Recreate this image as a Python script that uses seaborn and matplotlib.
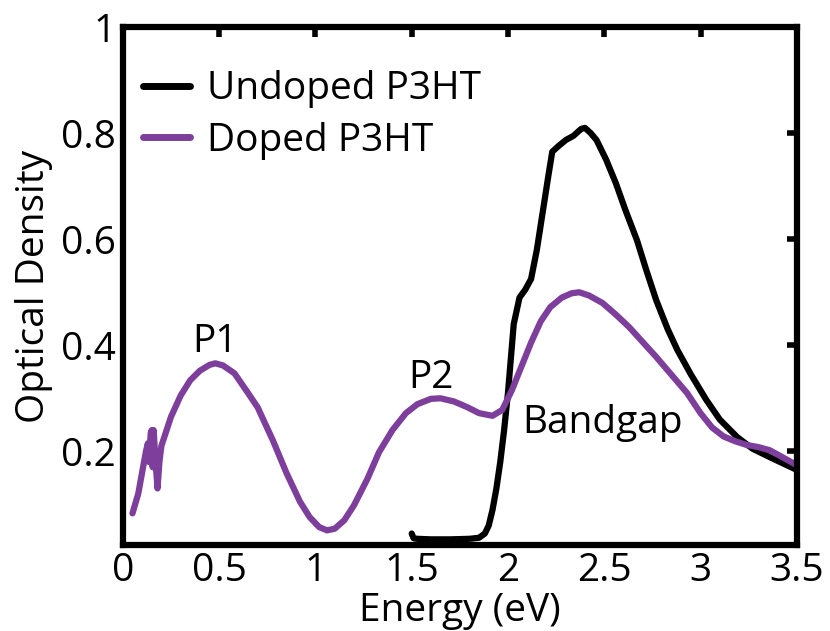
import numpy as np
import pandas as pd
import matplotlib
matplotlib.use("Agg")
import matplotlib.pyplot as plt
import seaborn as sns

# ---- data ----
doped_x = [0.05, 0.08, 0.10, 0.12, 0.13, 0.135, 0.145, 0.15, 0.155, 0.16, 0.17, 0.18, 0.19, 0.20,
           0.25, 0.30, 0.35, 0.40, 0.45, 0.48, 0.52, 0.58, 0.65, 0.70, 0.78, 0.85, 0.92, 0.97,
           1.02, 1.06, 1.10, 1.15, 1.20, 1.27, 1.33, 1.40, 1.47, 1.53, 1.60, 1.65, 1.72, 1.79,
           1.85, 1.92, 1.97, 2.02, 2.07, 2.12, 2.17, 2.22, 2.28, 2.33, 2.37, 2.42, 2.49, 2.56,
           2.63, 2.70, 2.77, 2.85, 2.93, 3.00, 3.06, 3.12, 3.18, 3.24, 3.30, 3.36, 3.42, 3.50]
doped_y = [0.083, 0.12, 0.16, 0.20, 0.215, 0.18, 0.235, 0.24, 0.17, 0.24, 0.18, 0.13, 0.18, 0.21,
           0.265, 0.305, 0.334, 0.352, 0.363, 0.366, 0.362, 0.347, 0.31, 0.283, 0.22, 0.159, 0.105, 0.076,
           0.057, 0.051, 0.054, 0.07, 0.098, 0.148, 0.198, 0.24, 0.272, 0.289, 0.299, 0.30, 0.294, 0.283,
           0.272, 0.267, 0.278, 0.315, 0.36, 0.405, 0.445, 0.472, 0.49, 0.498, 0.50, 0.494, 0.48, 0.458,
           0.434, 0.406, 0.378, 0.344, 0.31, 0.272, 0.245, 0.228, 0.219, 0.212, 0.208, 0.202, 0.19, 0.174]

undoped_x = [1.50, 1.51, 1.53, 1.60, 1.70, 1.80, 1.85, 1.88, 1.90, 1.92, 1.94, 1.96, 1.98, 2.00,
             2.03, 2.06, 2.09, 2.12, 2.15, 2.18, 2.21, 2.23, 2.26, 2.30, 2.34, 2.38, 2.40, 2.43,
             2.46, 2.51, 2.56, 2.61, 2.67, 2.72, 2.77, 2.83, 2.88, 2.95, 3.03, 3.10, 3.19, 3.27,
             3.36, 3.43, 3.50]
undoped_y = [0.045, 0.036, 0.035, 0.034, 0.034, 0.035, 0.037, 0.045, 0.06, 0.09, 0.13, 0.18, 0.24, 0.31,
             0.44, 0.49, 0.505, 0.525, 0.58, 0.65, 0.72, 0.765, 0.775, 0.787, 0.795, 0.808, 0.81, 0.80,
             0.787, 0.75, 0.706, 0.655, 0.598, 0.54, 0.485, 0.43, 0.391, 0.345, 0.297, 0.26, 0.227, 0.205,
             0.189, 0.177, 0.165]

series_names = ["Undoped P3HT", "Doped P3HT"]
x_ticks = [0, 0.5, 1, 1.5, 2, 2.5, 3, 3.5]
x_tick_labels = ["0", "0.5", "1", "1.5", "2", "2.5", "3", "3.5"]
y_ticks = [0.2, 0.4, 0.6, 0.8, 1.0]
y_tick_labels = ["0.2", "0.4", "0.6", "0.8", "1"]
annotations = [("P1", 0.48, 0.387), ("P2", 1.60, 0.319), ("Bandgap", 2.49, 0.234)]

# ---- styling ----
sns.set_theme(style="white")
plt.rcParams["font.family"] = ["Open Sans", "DejaVu Sans"]

purple = "#7D3F9B"
FS = 28

df = pd.concat([
    pd.DataFrame({"Energy": undoped_x, "OD": undoped_y, "Sample": series_names[0]}),
    pd.DataFrame({"Energy": doped_x, "OD": doped_y, "Sample": series_names[1]}),
], ignore_index=True)

fig = plt.figure(figsize=(8.30, 6.31), dpi=100)
ax = fig.add_axes([0.148, 0.136, 0.812, 0.821])

sns.lineplot(data=df, x="Energy", y="OD", hue="Sample", hue_order=series_names,
             palette={series_names[0]: "black", series_names[1]: purple},
             estimator=None, sort=False, linewidth=4.5, ax=ax)

ax.set_xlim(0, 3.5)
ax.set_ylim(0.023, 1.0)
ax.set_xticks(x_ticks)
ax.set_xticklabels(x_tick_labels)
ax.set_yticks(y_ticks)
ax.set_yticklabels(y_tick_labels)

for s in ax.spines.values():
    s.set_linewidth(4.5)
    s.set_color("black")
    s.set_visible(True)

ax.tick_params(axis="both", which="major", direction="in", length=7, width=4,
               labelsize=FS, top=True, right=True, pad=5, color="black", labelcolor="black")

ax.set_xlabel("Energy (eV)", fontsize=FS, labelpad=1, color="black")
ax.set_ylabel("Optical Density", fontsize=FS, labelpad=6, color="black")

for txt, xx, yy in annotations:
    ax.text(xx, yy, txt, fontsize=FS, ha="center", va="baseline", color="black")

leg = ax.legend(loc="center left", bbox_to_anchor=(0.03, 0.83), frameon=False, fontsize=FS,
                handlelength=1.2, handletextpad=0.45, labelspacing=0.35,
                borderaxespad=0.0, borderpad=0.0)
for line in leg.get_lines():
    line.set_linewidth(5)
for t in leg.get_texts():
    t.set_color("black")

fig.savefig("out.png", dpi=100)
